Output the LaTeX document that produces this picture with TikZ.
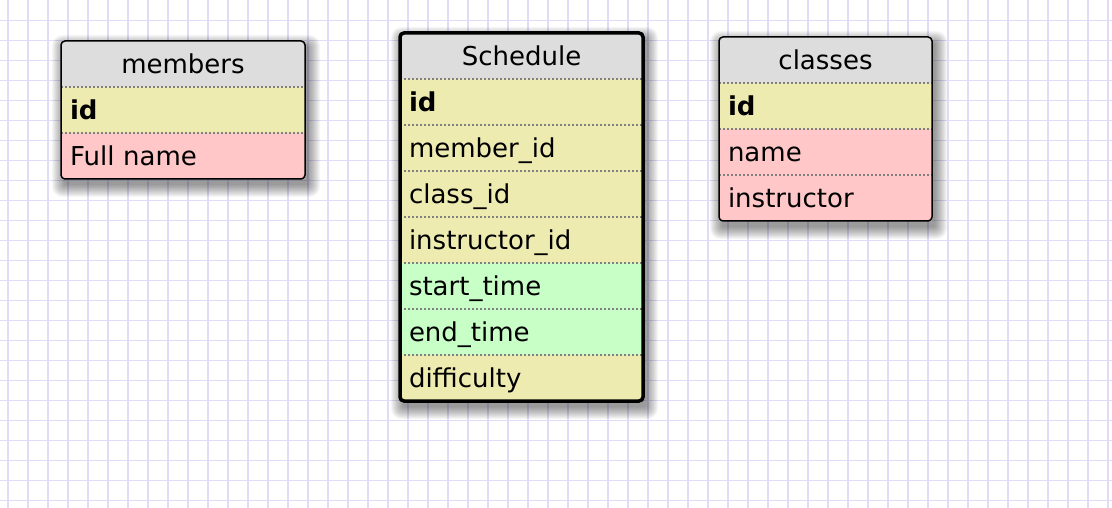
\documentclass[tikz,border=0pt]{standalone}
\usepackage{fontspec}
\setmainfont{DejaVu Sans}
\usetikzlibrary{positioning,calc}
\definecolor{hdrc}{RGB}{221,221,221}
\definecolor{keyc}{RGB}{238,235,176}
\definecolor{pinkc}{RGB}{255,199,199}
\definecolor{greenc}{RGB}{199,255,199}
\definecolor{gridc}{RGB}{222,220,247}
\definecolor{sepc}{RGB}{128,128,128}
\pgfdeclarelayer{paper}
\pgfdeclarelayer{background}
\pgfsetlayers{paper,background,main}

\begin{document}
\begin{tikzpicture}[
    x=1pt, y=-1pt,
    node distance=0pt,
    every node/.style={outer sep=0pt, font=\fontsize{26}{30}\selectfont,
                       text height=20pt, text depth=1pt},
    title/.style={rectangle, fill=hdrc, minimum height=46pt, inner sep=0pt, anchor=north west},
    field/.style={rectangle, minimum height=46pt, inner xsep=9pt, inner ysep=0pt, align=left},
    key/.style={field, fill=keyc, font=\fontsize{26}{30}\selectfont\bfseries},
    fk/.style={field, fill=keyc},
    attr/.style={field, fill=pinkc},
    tm/.style={field, fill=greenc},
    sep/.style={draw=sepc, line width=1.3pt, dash pattern=on 2pt off 2pt},
    tbl/.style={draw, line width=1.5pt, rounded corners=4pt},
    seltbl/.style={draw, line width=3.5pt, rounded corners=4pt},
    gridline/.style={draw=gridc, line width=1.6pt}
]
\useasboundingbox (0,0) rectangle (1112,508);

% grid
\begin{pgfonlayer}{paper}
\fill[white] (0,0) rectangle (1112,508);
\foreach \gx in {8,28,...,1108}
  \draw[gridline] (\gx,0) -- (\gx,508);
\foreach \gy in {20.5,40.5,...,500.5}
  \draw[gridline] (0,\gy) -- (1112,\gy);
\end{pgfonlayer}

% members
\node[title, minimum width=244pt] (mem) at (61,41) {members};
\node[key, text width=226pt, below=of mem] (memid) {id};
\node[attr, text width=226pt, below=of memid] (memname) {Full name};

% Schedule
\node[title, minimum width=243pt] (sch) at (400,33) {Schedule};
\node[key, text width=225pt, below=of sch] (schid) {id};
\node[fk, text width=225pt, below=of schid] (schmem) {member\_id};
\node[fk, text width=225pt, below=of schmem] (schcls) {class\_id};
\node[fk, text width=225pt, below=of schcls] (schinst) {instructor\_id};
\node[tm, text width=225pt, below=of schinst] (schstart) {start\_time};
\node[tm, text width=225pt, below=of schstart] (schend) {end\_time};
\node[fk, text width=225pt, below=of schend] (schdiff) {difficulty};

% classes
\node[title, minimum width=213pt] (cls) at (719,37) {classes};
\node[key, text width=195pt, below=of cls] (clsid) {id};
\node[attr, text width=195pt, below=of clsid] (clsname) {name};
\node[attr, text width=195pt, below=of clsname] (clsinst) {instructor};

% shadows
\begin{pgfonlayer}{background}
\foreach \t/\b in {mem/memname, sch/schdiff, cls/clsinst}
  \foreach \s [evaluate=\s as \e using \s-4, evaluate=\s as \r using 1+\s*0.8] in {0,1,...,12}
    \fill[black, opacity=0.035, rounded corners=\r pt]
      ($(\t.north west)+(3-\e,6-\e)$) rectangle ($(\b.south east)+(3+\e,6+\e)$);
\end{pgfonlayer}

% row separators
\foreach \r in {memid, memname, schid, schmem, schcls, schinst, schstart, schend, schdiff, clsid, clsname, clsinst}
  \draw[sep] (\r.north west) -- (\r.north east);

% outlines
\draw[tbl] (mem.north west) rectangle (memname.south east);
\draw[seltbl] (sch.north west) rectangle (schdiff.south east);
\draw[tbl] (cls.north west) rectangle (clsinst.south east);
\end{tikzpicture}
\end{document}
